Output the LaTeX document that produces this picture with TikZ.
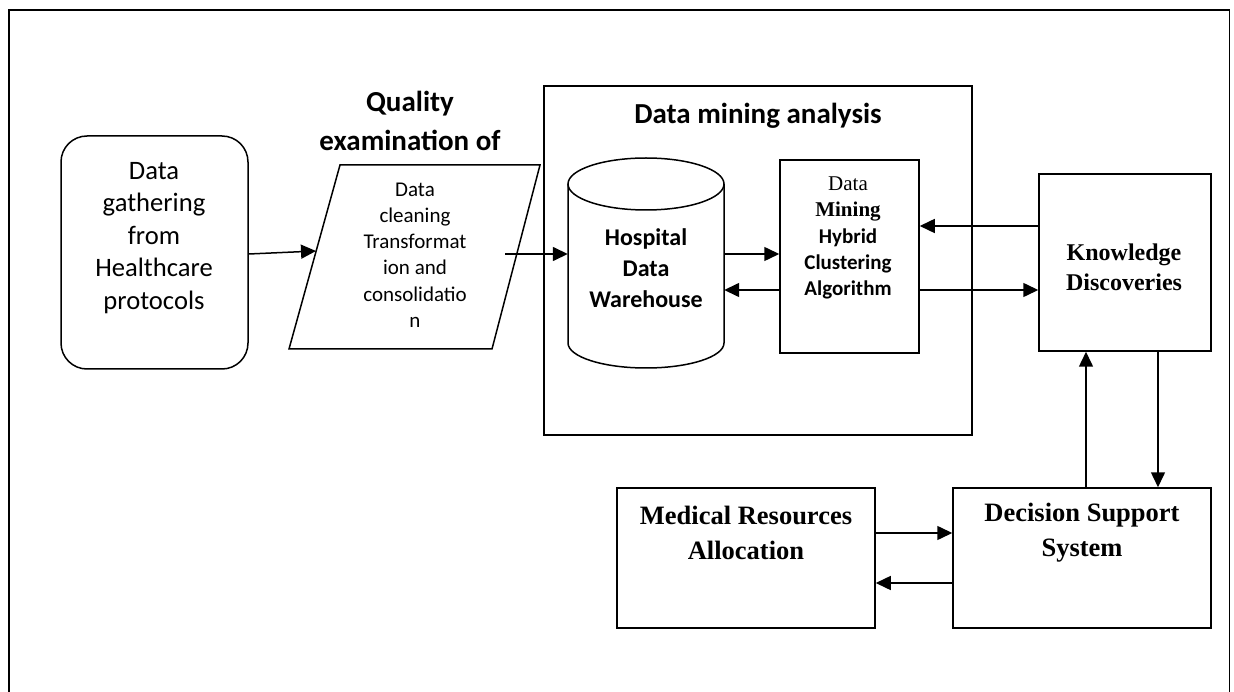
\documentclass[tikz,border=0pt]{standalone}
\usepackage{fontspec}
\setmainfont{Carlito}
\newfontfamily\tms{Liberation Serif}
\usetikzlibrary{arrows.meta}

\tikzset{
  box/.style={draw, line width=1.5pt, inner sep=0pt},
  hole/.style={inner sep=0pt},
  arr/.style={line width=1.5pt, -{Triangle[length=15pt,width=14pt]}},
  lbl/.style={align=center, inner sep=0pt},
}

\begin{document}
\begin{tikzpicture}[x=1pt, y=-1pt]
\useasboundingbox (0,0) rectangle (1234,692);

% outer frame, open at the bottom
\draw[line width=1.5pt] (9,700) -- (9,10) -- (1229.5,10) -- (1229.5,700);

% data source
\node[box, rounded corners=26pt, minimum width=187pt, minimum height=233pt] (gather) at (154.5,252.5) {};
\node[lbl, font=\fontsize{26.6}{32.6}\selectfont] (gatherT) at (154,238)
  {Data\\gathering\\from\\Healthcare\\protocols};

% quality examination (parallelogram)
\node[lbl, font=\fontsize{29}{39}\selectfont\bfseries] (qualT) at (410,121) {Quality\\examination of};
\draw[line width=1.5pt] (340,165) -- (540,165) -- (492,349) -- (289,349) -- cycle;
\coordinate (paraIn) at (316,251);
\coordinate (paraOut) at (505,254);
\node[lbl, font=\fontsize{21}{26.2}\selectfont] (paraT) at (415,255)
  {Data\\cleaning\\Transformat\\ion and\\consolidatio\\n};

% data mining analysis frame
\node[box, minimum width=428pt, minimum height=349pt] (dma) at (758,260.5) {};
\node[lbl, font=\fontsize{29}{35}\selectfont\bfseries] (dmaT) at (758,116) {Data mining analysis};

% warehouse cylinder
\draw[line width=1.5pt] (568,184) -- (568,343) arc[start angle=180, end angle=0, x radius=78, y radius=25] -- (724,184);
\draw[line width=1.5pt] (646,184) ellipse [x radius=78, y radius=26];
\node[hole, minimum width=156pt, minimum height=210pt] (wh) at (646,263) {};
\node[lbl, font=\fontsize{24}{31}\selectfont\bfseries] (whT) at (646,268) {Hospital\\Data\\Warehouse};

% clustering algorithm
\node[box, minimum width=139pt, minimum height=193pt] (dm) at (849.5,256.5) {};
\node[lbl, font=\fontsize{21}{26.2}\selectfont] (dmT) at (848,238)
  {{\tms Data}\\{\tms\bfseries Mining}\\\textbf{Hybrid}\\\textbf{Clustering}\\\textbf{Algorithm}};

% knowledge discoveries
\node[box, minimum width=172pt, minimum height=177pt] (kd) at (1125,262.5) {};
\node[lbl, font=\fontsize{24}{30}\selectfont\tms\bfseries] (kdT) at (1124,267) {Knowledge\\Discoveries};

% bottom row
\node[box, minimum width=258pt, minimum height=140pt] (mr) at (746,558) {};
\node[lbl, font=\fontsize{26.5}{35}\selectfont\tms\bfseries] (mrT) at (746,533) {Medical Resources\\Allocation};
\node[box, minimum width=258pt, minimum height=140pt] (dss) at (1082,558) {};
\node[lbl, font=\fontsize{26.5}{35}\selectfont\tms\bfseries] (dssT) at (1082,533) {Decision Support\\System};

% connectors
\draw[arr] (gather.east |- 0,254) -- (paraIn);
\draw[arr] (paraOut) -- (wh.west |- 0,254);
\draw[arr] (wh.east |- 0,254) -- (dm.west |- 0,254);
\draw[arr] (dm.west |- 0,290) -- (wh.east |- 0,290);
\draw[arr] (kd.west |- 0,226) -- (dm.east |- 0,226);
\draw[arr] (dm.east |- 0,290) -- (kd.west |- 0,290);
\draw[arr] (dss.north -| 1086,0) -- (kd.south -| 1086,0);
\draw[arr] (kd.south -| 1158,0) -- (dss.north -| 1158,0);
\draw[arr] (mr.east |- 0,533) -- (dss.west |- 0,533);
\draw[arr] (dss.west |- 0,583) -- (mr.east |- 0,583);
\end{tikzpicture}
\end{document}
